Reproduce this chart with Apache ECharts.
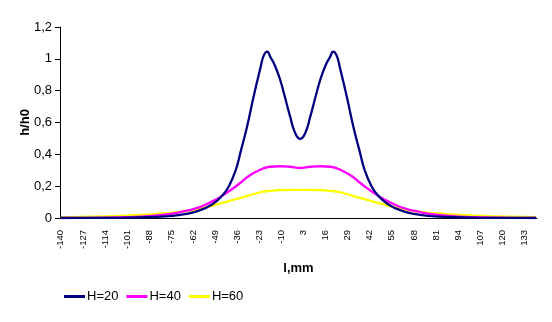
<!DOCTYPE html>
<html>
<head>
<meta charset="utf-8">
<script src="https://cdn.jsdelivr.net/npm/echarts@6/dist/echarts.min.js"></script>
<style>
html,body{margin:0;padding:0;background:#fff;}
#c{width:552px;height:322px;}
</style>
</head>
<body>
<div id="c"></div>
<script>
// x tick labels (mm)
var xTicks = [-140,-127,-114,-101,-88,-75,-62,-49,-36,-23,-10,3,16,29,42,55,68,81,94,107,120,133];
var yTickLabels = ['0','0,2','0,4','0,6','0,8','1','1,2'];

var seriesNames = ['H=20','H=40','H=60'];

// H=20
var h20x = [-140,-109,-94,-84,-75,-67,-59,-51,-45,-41,-37,-34,-30.5,-26.5,-22.5,-20.5,-18.5,-16.5,-14,-11,-8,-5,-2,1,4,7,10,13,16,18.5,20.5,22.5,24.5,28.5,32.5,36,39,43,47,53,61,69,77,86,96,111,140];
var h20y = [0,0.001,0.003,0.007,0.013,0.025,0.045,0.085,0.14,0.2,0.3,0.42,0.565,0.76,0.94,1.02,1.045,1.01,0.96,0.875,0.76,0.64,0.535,0.497,0.535,0.64,0.76,0.875,0.96,1.01,1.045,1.02,0.94,0.76,0.565,0.42,0.3,0.2,0.14,0.085,0.045,0.025,0.013,0.007,0.003,0.001,0];

// H=40
var h40x = [-140,-114,-99,-89,-79,-71,-65,-59,-54,-49,-45,-41,-37,-33,-29,-25,-21,-17,-11,-5,1,7,13,19,23,27,31,35,39,43,47,51,56,61,67,73,81,91,101,116,140];
var h40y = [0,0.002,0.006,0.011,0.021,0.034,0.048,0.065,0.088,0.115,0.14,0.168,0.198,0.232,0.265,0.29,0.31,0.322,0.325,0.322,0.314,0.322,0.325,0.322,0.31,0.29,0.265,0.232,0.198,0.168,0.14,0.115,0.088,0.065,0.048,0.034,0.021,0.011,0.006,0.002,0];

// H=60
var h60x = [-140,-124,-114,-104,-94,-84,-74,-69,-64,-59,-54,-49,-44,-39,-34,-29,-24,-19,-9,1,11,21,26,31,36,41,46,51,56,61,66,71,76,86,96,106,116,126,140];
var h60y = [0.004,0.008,0.01,0.014,0.019,0.026,0.034,0.04,0.047,0.057,0.068,0.083,0.097,0.112,0.127,0.142,0.158,0.168,0.176,0.177,0.176,0.168,0.158,0.142,0.127,0.112,0.097,0.083,0.068,0.057,0.047,0.04,0.034,0.026,0.019,0.014,0.01,0.008,0.005];

var colors = ['#000080','#FF00FF','#FFFF00'];

function pairs(xs, ys){ return xs.map(function(x,i){ return [x, ys[i]]; }); }

var FONT = "'Liberation Sans',Arial,sans-serif";

var chart = echarts.init(document.getElementById('c'), null, {renderer:'canvas'});
chart.setOption({
  animation:false,
  backgroundColor:'#fff',
  grid:{left:60, right:15, top:27, bottom:104, containLabel:false},
  xAxis:{
    type:'value', min:-140.5, max:140.5,
    name:'l,mm', nameLocation:'middle', nameGap:44, nameMoveOverlap:false,
    nameTextStyle:{fontFamily:FONT, fontWeight:'bold', fontSize:13, color:'#000'},
    axisLine:{show:true, onZero:false, lineStyle:{color:'#000', width:1}},
    axisTick:{show:false},
    splitLine:{show:false},
    axisLabel:{customValues:xTicks, rotate:90, margin:12, fontFamily:FONT, fontSize:9.5, color:'#000'}
  },
  yAxis:{
    type:'value', min:0, max:1.2, interval:0.2,
    name:'h/h0', nameLocation:'middle', nameGap:28, nameMoveOverlap:false,
    nameTextStyle:{fontFamily:FONT, fontWeight:'bold', fontSize:13, color:'#000'},
    axisLine:{show:true, onZero:false, lineStyle:{color:'#000', width:1}},
    axisTick:{show:true, length:5, lineStyle:{color:'#000'}},
    splitLine:{show:false},
    axisLabel:{margin:8, fontFamily:FONT, fontSize:13, color:'#000',
      formatter:function(v){ return yTickLabels[Math.round(v/0.2)]; }}
  },
  legend:{
    left:59, top:285, itemWidth:21, itemHeight:3, itemGap:8,
    textStyle:{fontFamily:FONT, fontSize:13, color:'#000', padding:[0,0,0,-3]},
    data:seriesNames.map(function(n){return {name:n, icon:'rect'};})
  },
  series:[
    {name:seriesNames[0], type:'line', data:pairs(h20x,h20y), smooth:0.5, symbol:'none', lineStyle:{color:colors[0], width:2.3}, itemStyle:{color:colors[0]}, z:3},
    {name:seriesNames[1], type:'line', data:pairs(h40x,h40y), smooth:0.5, symbol:'none', lineStyle:{color:colors[1], width:2.3}, itemStyle:{color:colors[1]}, z:2},
    {name:seriesNames[2], type:'line', data:pairs(h60x,h60y), smooth:0.5, symbol:'none', lineStyle:{color:colors[2], width:2.3}, itemStyle:{color:colors[2]}, z:1}
  ]
});
</script>
</body>
</html>
